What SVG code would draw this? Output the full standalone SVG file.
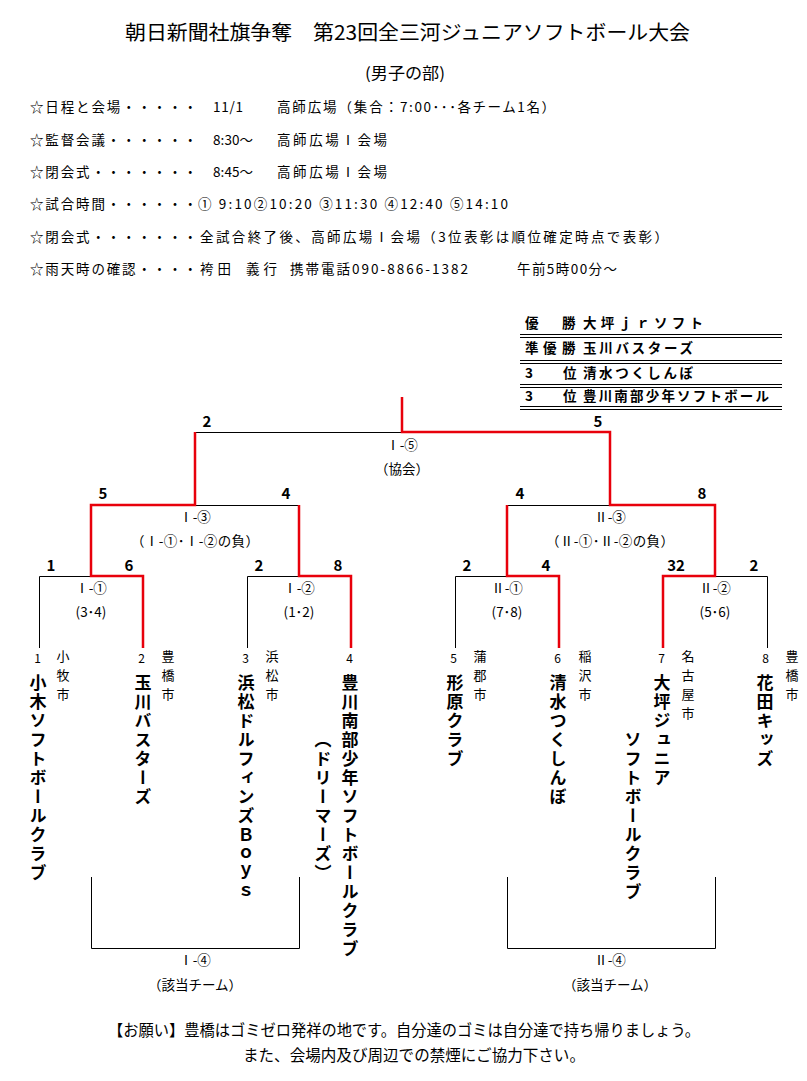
<svg xmlns="http://www.w3.org/2000/svg" width="807" height="1081" viewBox="0 0 807 1081">
<style>
text{font-family:"Noto Sans CJK JP","Noto Sans",sans-serif;fill:#000}
.sch{font-size:13.5px}
.lbl{font-size:13.5px;text-anchor:middle}
.sc{font-family:"Liberation Sans",Arial,sans-serif;font-weight:bold;font-size:15px;text-anchor:middle}
.num{font-size:12px;text-anchor:middle}
.vt{writing-mode:vertical-rl}
.tm{font-size:17px;font-weight:bold;letter-spacing:2px}
.ct{font-size:13px;letter-spacing:6px}
.res{font-size:13.5px;font-weight:bold}
.k{stroke:#000;stroke-width:1;fill:none}
.r{stroke:#e8000b;stroke-width:2.5;fill:none}
</style>
<rect width="807" height="1081" fill="#fff"/>
<g id="header">
<text x="125" y="40" font-size="20" textLength="565" lengthAdjust="spacingAndGlyphs">朝日新聞社旗争奪　第23回全三河ジュニアソフトボール大会</text>
<text x="365" y="79" font-size="16" textLength="80" lengthAdjust="spacingAndGlyphs">(男子の部)</text>
</g>
<g id="schedule" class="sch">
<text x="30" y="112" textLength="167">☆日程と会場・・・・・</text>
<text x="213" y="112" textLength="30">11/1</text>
<text x="277" y="112" textLength="121">高師広場（集合：</text>
<text x="400" y="112" textLength="155">7:00･･･各チーム1名）</text>
<text x="30" y="145" textLength="167">☆監督会議・・・・・・</text>
<text x="213" y="145" textLength="40">8:30〜</text>
<text x="277" y="145" textLength="110">高師広場Ⅰ会場</text>
<text x="30" y="177" textLength="167">☆閉会式・・・・・・・</text>
<text x="213" y="177" textLength="40">8:45〜</text>
<text x="277" y="177" textLength="110">高師広場Ⅰ会場</text>
<text x="30" y="209" textLength="167">☆試合時間・・・・・・</text>
<text x="198" y="209" textLength="310">① 9:10②10:20 ③11:30 ④12:40 ⑤14:10</text>
<text x="30" y="242" textLength="167">☆閉会式・・・・・・・</text>
<text x="200" y="242" textLength="468">全試合終了後、高師広場Ⅰ会場（3位表彰は順位確定時点で表彰）</text>
<text x="30" y="274" textLength="167">☆雨天時の確認・・・・</text>
<text x="200" y="274" textLength="31">袴田</text>
<text x="246" y="274" textLength="31">義行</text>
<text x="290" y="274" textLength="178">携帯電話090-8866-1382</text>
<text x="517" y="274" textLength="100">午前5時00分〜</text>
</g>
<g id="results">
<text class="res" x="525" y="328">優</text>
<text class="res" x="562" y="328">勝</text>
<text class="res" x="583" y="328" textLength="120">大坪ｊｒソフト</text>
<text class="res" x="525" y="353">準</text>
<text class="res" x="543" y="353">優</text>
<text class="res" x="562" y="353">勝</text>
<text class="res" x="583" y="353" textLength="110">玉川バスターズ</text>
<text class="res" x="525" y="378">3</text>
<text class="res" x="563" y="378">位</text>
<text class="res" x="583" y="378" textLength="110">清水つくしんぼ</text>
<text class="res" x="525" y="401">3</text>
<text class="res" x="563" y="401">位</text>
<text class="res" x="583" y="401" textLength="186">豊川南部少年ソフトボール</text>
<path class="k" d="M520,334.5H782M520,337.5H782M520,360.5H782M520,363.5H782M520,384.5H782M520,387.5H782M520,406.5H782M520,409.5H782"/>
</g>
<g id="connectors">
<path class="k" d="M195,432.5H402"/>
<path class="k" d="M195,505.5H299"/>
<path class="k" d="M507,505.5H610"/>
<path class="k" d="M39.5,648V576.5H91"/>
<path class="k" d="M247.5,648V576.5H299"/>
<path class="k" d="M455.5,648V576.5H507"/>
<path class="k" d="M715,576.5H767.5V648"/>
<path class="k" d="M91.5,877V948.5H299.5V877"/>
<path class="k" d="M507.5,877V948.5H715.5V877"/>
<path class="r" d="M402,397V432H610V505H715V576H663V648"/>
<path class="r" d="M195,432V505H91V576H143V648"/>
<path class="r" d="M299,505V576H351V648"/>
<path class="r" d="M507,505V576H559V648"/>
</g>
<g id="scores" class="sc">
<text x="207" y="427">2</text>
<text x="598" y="427">5</text>
<text x="103" y="499">5</text>
<text x="286" y="499">4</text>
<text x="520" y="499">4</text>
<text x="702" y="499">8</text>
<text x="51" y="571">1</text>
<text x="129" y="571">6</text>
<text x="259" y="571">2</text>
<text x="338" y="571">8</text>
<text x="467" y="571">2</text>
<text x="546" y="571">4</text>
<text x="676" y="571">32</text>
<text x="754" y="571">2</text>
</g>
<g id="match-I5" class="lbl">
<text x="402" y="450">Ⅰ-⑤</text>
<text x="402" y="474">（協会）</text>
</g>
<g id="match-I3" class="lbl">
<text x="195" y="522">Ⅰ-③</text>
<text x="131" y="546" style="text-anchor:start" textLength="128">（Ⅰ-①･Ⅰ-②の負）</text>
</g>
<g id="match-II3" class="lbl">
<text x="610" y="522">Ⅱ-③</text>
<text x="546" y="546" style="text-anchor:start" textLength="128">（Ⅱ-①･Ⅱ-②の負）</text>
</g>
<g id="match-I1" class="lbl">
<text x="91" y="593">Ⅰ-①</text>
<text x="91" y="617">(3･4)</text>
</g>
<g id="match-I2" class="lbl">
<text x="299" y="593">Ⅰ-②</text>
<text x="299" y="617">(1･2)</text>
</g>
<g id="match-II1" class="lbl">
<text x="507" y="593">Ⅱ-①</text>
<text x="507" y="617">(7･8)</text>
</g>
<g id="match-II2" class="lbl">
<text x="715" y="593">Ⅱ-②</text>
<text x="715" y="617">(5･6)</text>
</g>
<g id="match-I4" class="lbl">
<text x="195" y="965">Ⅰ-④</text>
<text x="195" y="990">（該当チーム）</text>
</g>
<g id="match-II4" class="lbl">
<text x="610" y="965">Ⅱ-④</text>
<text x="610" y="990">（該当チーム）</text>
</g>
<g id="team1">
<text class="num" x="37.5" y="663">1</text>
<text class="vt ct" x="63" y="650">小牧市</text>
<text class="vt tm" x="38" y="674">小木ソフトボールクラブ</text>
</g>
<g id="team2">
<text class="num" x="141.5" y="663">2</text>
<text class="vt ct" x="168" y="650">豊橋市</text>
<text class="vt tm" x="143" y="674">玉川バスターズ</text>
</g>
<g id="team3">
<text class="num" x="245.5" y="663">3</text>
<text class="vt ct" x="272" y="650">浜松市</text>
<text class="vt tm" x="246" y="674">浜松ドルフィンズＢｏｙｓ</text>
</g>
<g id="team4">
<text class="num" x="349.5" y="663">4</text>
<text class="vt tm" x="350" y="674">豊川南部少年ソフトボールクラブ</text>
<text class="vt tm" x="323" y="731">（ドリーマーズ）</text>
</g>
<g id="team5">
<text class="num" x="453.5" y="663">5</text>
<text class="vt ct" x="480" y="650">蒲郡市</text>
<text class="vt tm" x="455" y="674">形原クラブ</text>
</g>
<g id="team6">
<text class="num" x="557.5" y="663">6</text>
<text class="vt ct" x="585" y="650">稲沢市</text>
<text class="vt tm" x="558" y="674">清水つくしんぼ</text>
</g>
<g id="team7">
<text class="num" x="661.5" y="663">7</text>
<text class="vt ct" x="688" y="650">名古屋市</text>
<text class="vt tm" x="662" y="674">大坪ジュニア</text>
<text class="vt tm" x="633" y="731">ソフトボールクラブ</text>
</g>
<g id="team8">
<text class="num" x="765.5" y="663">8</text>
<text class="vt ct" x="792" y="650">豊橋市</text>
<text class="vt tm" x="765" y="674">花田キッズ</text>
</g>
<g id="footer">
<text x="108" y="1036" font-size="15.5" textLength="592" lengthAdjust="spacingAndGlyphs">【お願い】豊橋はゴミゼロ発祥の地です。自分達のゴミは自分達で持ち帰りましょう。</text>
<text x="243" y="1061" font-size="15.5" textLength="342" lengthAdjust="spacingAndGlyphs">また、会場内及び周辺での禁煙にご協力下さい。</text>
</g>
</svg>
